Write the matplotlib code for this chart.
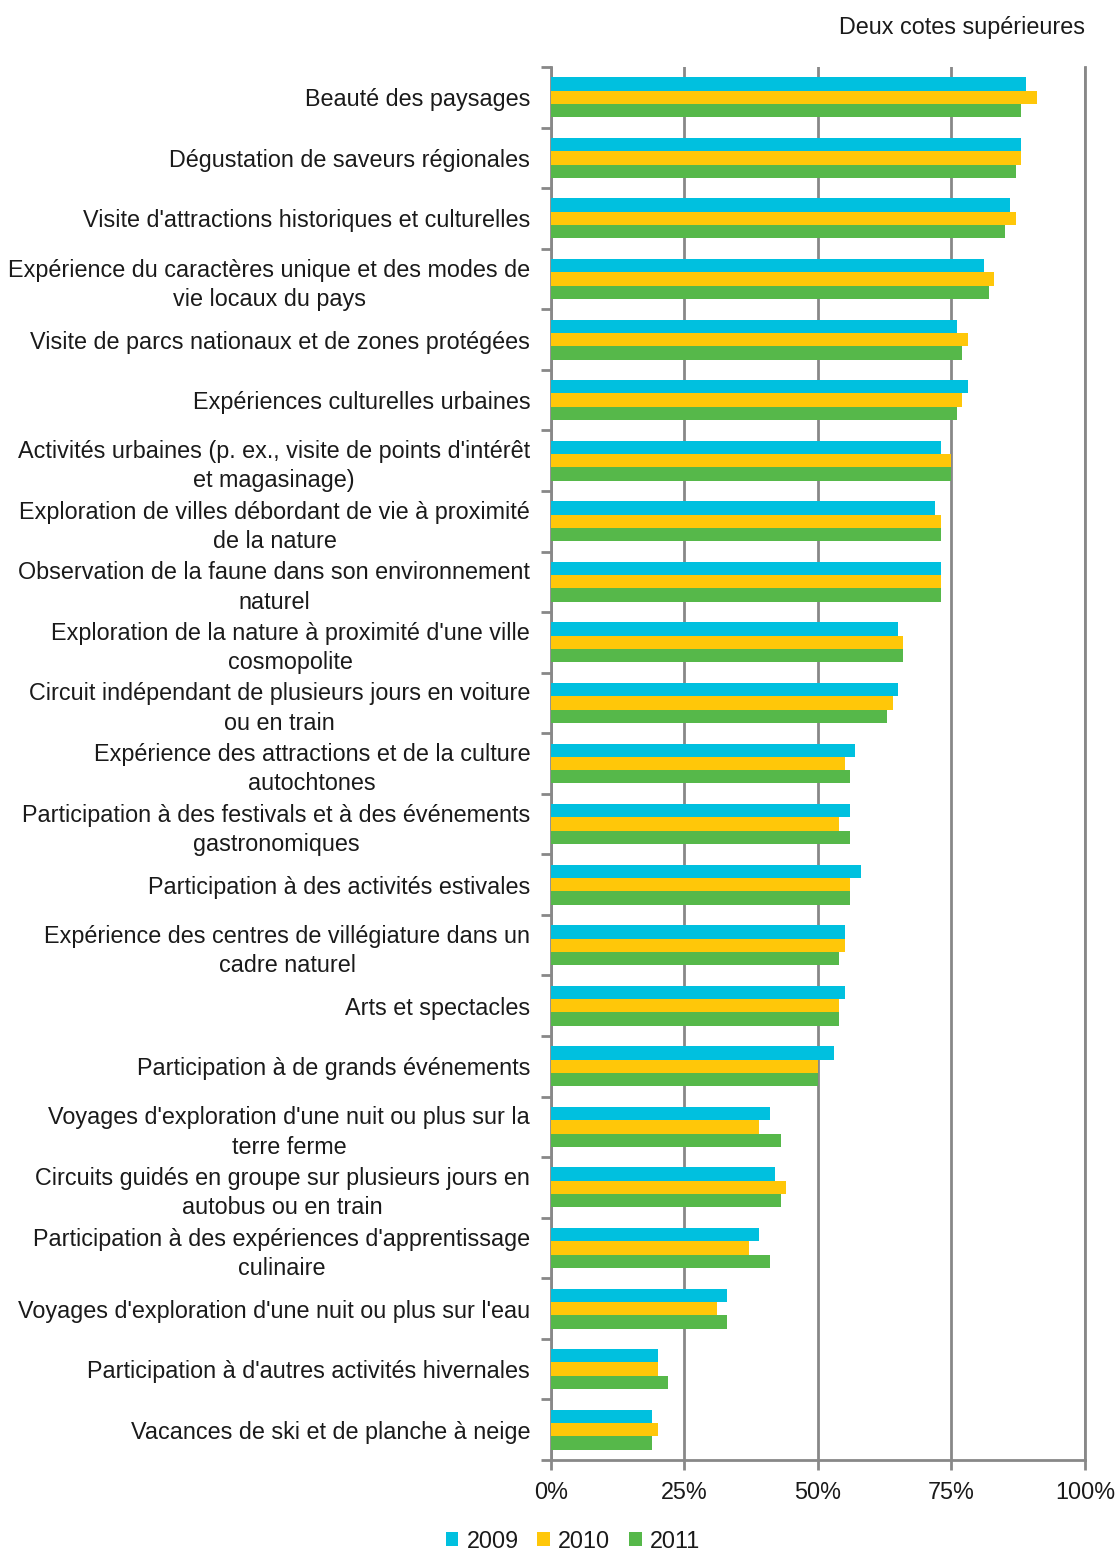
import numpy as np
import matplotlib
matplotlib.use('Agg')
import matplotlib.pyplot as plt
from matplotlib.ticker import FixedLocator, FuncFormatter

plt.rcParams['font.family'] = ['Liberation Sans', 'DejaVu Sans']
plt.rcParams['text.color'] = '#1a1a1a'
plt.rcParams['xtick.labelcolor'] = '#1a1a1a'
plt.rcParams['ytick.labelcolor'] = '#1a1a1a'

categories = [
    "Beauté des paysages",
    "Dégustation de saveurs régionales",
    "Visite d'attractions historiques et culturelles",
    "Expérience du caractères unique et des modes de\nvie locaux du pays",
    "Visite de parcs nationaux et de zones protégées",
    "Expériences culturelles urbaines",
    "Activités urbaines (p. ex., visite de points d'intérêt\net magasinage)",
    "Exploration de villes débordant de vie à proximité\nde la nature",
    "Observation de la faune dans son environnement\nnaturel",
    "Exploration de la nature à proximité d'une ville\ncosmopolite",
    "Circuit indépendant de plusieurs jours en voiture\nou en train",
    "Expérience des attractions et de la culture\nautochtones",
    "Participation à des festivals et à des événements\ngastronomiques",
    "Participation à des activités estivales",
    "Expérience des centres de villégiature dans un\ncadre naturel",
    "Arts et spectacles",
    "Participation à de grands événements",
    "Voyages d'exploration d'une nuit ou plus sur la\nterre ferme",
    "Circuits guidés en groupe sur plusieurs jours en\nautobus ou en train",
    "Participation à des expériences d'apprentissage\nculinaire",
    "Voyages d'exploration d'une nuit ou plus sur l'eau",
    "Participation à d'autres activités hivernales",
    "Vacances de ski et de planche à neige",
]

v2009 = [89, 88, 86, 81, 76, 78, 73, 72, 73, 65, 65, 57, 56, 58, 55, 55, 53, 41, 42, 39, 33, 20, 19]
v2010 = [91, 88, 87, 83, 78, 77, 75, 73, 73, 66, 64, 55, 54, 56, 55, 54, 50, 39, 44, 37, 31, 20, 20]
v2011 = [88, 87, 85, 82, 77, 76, 75, 73, 73, 66, 63, 56, 56, 56, 54, 54, 50, 43, 43, 41, 33, 22, 19]

years = ['2009', '2010', '2011']
colors = ['#00C0DF', '#FFC709', '#56B84A']
fs = 16.8

fig = plt.figure(figsize=(11.19, 15.52), dpi=100)
ax = fig.add_axes([0.4924, 0.0593, 0.4772, 0.8975])

n = len(categories)
y = np.arange(n)
h = 0.22
for i, (vals, lab, col) in enumerate(zip([v2009, v2010, v2011], years, colors)):
    ax.barh(y - h + i * h, vals, height=h, color=col, label=lab, zorder=3)

ax.set_ylim(n - 0.5, -0.5)
ax.set_xlim(0, 100)
ax.set_yticks(y)
ax.set_yticklabels(categories, fontsize=fs, linespacing=1.35)
ax.yaxis.set_minor_locator(FixedLocator(np.arange(-0.5, n, 1)))
ax.tick_params(axis='y', which='major', length=0, pad=15)
ax.tick_params(axis='y', which='minor', length=7, width=2, color='#888888')
ax.set_xticks([0, 25, 50, 75, 100])
ax.xaxis.set_major_formatter(FuncFormatter(lambda v, p: f'{int(v)}%'))
ax.tick_params(axis='x', length=7, width=2, color='#888888', labelsize=fs, pad=8)
for lbl in ax.get_yticklabels():
    lbl.set_horizontalalignment('right')
    lbl.set_multialignment('center')

ax.grid(axis='x', color='#888888', linewidth=2, zorder=0)
ax.axvline(100, color='#888888', linewidth=2, zorder=0, clip_on=False)
for s in ['top', 'right']:
    ax.spines[s].set_visible(False)
for s in ['left', 'bottom']:
    ax.spines[s].set_color('#888888')
    ax.spines[s].set_linewidth(2)

fig.text(0.9696, 0.982, 'Deux cotes supérieures', ha='right', va='center', fontsize=fs)

fig.legend(loc='center', bbox_to_anchor=(0.512, 0.007), ncol=3, frameon=False,
           fontsize=fs, handlelength=0.55, handleheight=0.55, handletextpad=0.35,
           columnspacing=0.8)

fig.savefig('out.png', dpi=100)
